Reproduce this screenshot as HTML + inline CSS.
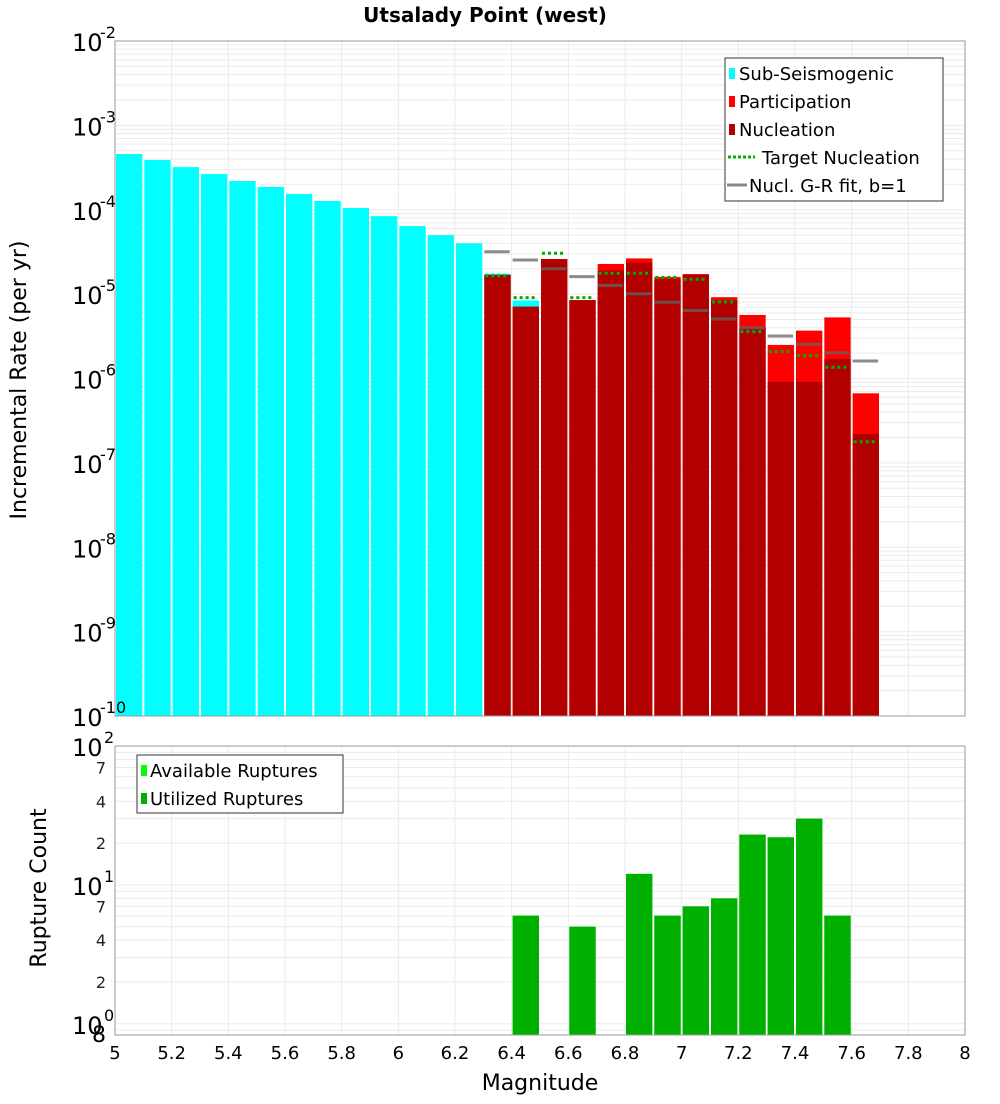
<!DOCTYPE html>
<html><head><meta charset="utf-8"><style>
body{margin:0;background:#fff;width:1000px;height:1100px;overflow:hidden;font-family:"DejaVu Sans","Liberation Sans",sans-serif}
svg text{font-family:"DejaVu Sans","Liberation Sans",sans-serif}
</style></head><body>
<svg id="c" width="1000" height="1100" xmlns="http://www.w3.org/2000/svg"></svg>
<script>
const subMags=[5.0,5.1,5.2,5.3,5.4,5.5,5.6,5.7,5.8,5.9,6.0,6.1,6.2,6.3,6.4];
const subRates=[4.58e-4,3.89e-4,3.2e-4,2.65e-4,2.19e-4,1.86e-4,1.54e-4,1.27e-4,1.05e-4,8.4e-5,6.4e-5,5.0e-5,4.0e-5,1.75e-5,8.4e-6];
const supMags=[6.3,6.4,6.5,6.6,6.7,6.8,6.9,7.0,7.1,7.2,7.3,7.4,7.5,7.6];
const partRates=[1.69e-5,7.1e-6,2.6e-5,8.5e-6,2.28e-5,2.65e-5,1.6e-5,1.73e-5,9.2e-6,5.66e-6,2.5e-6,3.69e-6,5.3e-6,6.67e-7];
const nuclRates=[1.69e-5,7.1e-6,2.6e-5,8.5e-6,1.9e-5,2.36e-5,1.5e-5,1.69e-5,8.5e-6,4.04e-6,9.1e-7,9.1e-7,1.7e-6,2.2e-7];
const targetRates=[1.65e-5,9.1e-6,3.05e-5,9.1e-6,1.77e-5,1.77e-5,1.58e-5,1.5e-5,8.1e-6,3.59e-6,2.08e-6,1.87e-6,1.36e-6,1.78e-7];
const grMags=[6.3,6.4,6.5,6.6,6.7,6.8,6.9,7.0,7.1,7.2,7.3,7.4,7.5,7.6];
const grRates=[3.18e-5,2.54e-5,2.0e-5,1.61e-5,1.27e-5,1.01e-5,8.0e-6,6.4e-6,5.07e-6,4.0e-6,3.19e-6,2.54e-6,2.02e-6,1.61e-6];
const cntMags=[6.4,6.6,6.8,6.9,7.0,7.1,7.2,7.3,7.4,7.5];
const availCounts=[6,5,12,6,7,8,23,22,30,6];
const usedCounts=[6,5,12,6,7,8,23,22,30,6];
const xTicks=[5,5.2,5.4,5.6,5.8,6,6.2,6.4,6.6,6.8,7,7.2,7.4,7.6,7.8,8];
const topDecades=[-2,-3,-4,-5,-6,-7,-8,-9,-10];

const S=document.getElementById('c');const NS='http://www.w3.org/2000/svg';
function el(t,a,p){const e=document.createElementNS(NS,t);for(const k in a)e.setAttribute(k,a[k]);(p||S).appendChild(e);return e;}
const X0=115,X1=965;
const x=m=>X0+(m-5)/3*(X1-X0);
const T0=41,T1=716;const yT=v=>T0+(-2-Math.log10(v))*(T1-T0)/8;
const B0=746,B1=1035,bMin=Math.log10(0.83);const yB=v=>B0+(2-Math.log10(v))*(B1-B0)/(2-bMin);
const bw=(X1-X0)/30;

function grid(y0,y1,yf,lo,hi){
  const g=el('g',{});
  
  for(let d=lo;d<hi;d++)for(let k=1;k<10;k++){const v=k*Math.pow(10,d);const yy=yf(v);if(yy>=y0&&yy<=y1)el('line',{x1:X0,x2:X1,y1:yy,y2:yy,stroke:'#ebebeb','stroke-width':1},g);}
  xTicks.forEach(t=>el('line',{x1:x(t),x2:x(t),y1:y0,y2:y1,stroke:'#ebebeb','stroke-width':1},g));
}
el('rect',{x:X0,y:T0,width:X1-X0,height:T1-T0,fill:'#fff'});
grid(T0,T1,yT,-10,-2);
el('rect',{x:X0,y:B0,width:X1-X0,height:B1-B0,fill:'#fff'});
grid(B0,B1,yB,-1,2);

// title
let t=el('text',{x:485,y:22,'text-anchor':'middle','font-size':20,'font-weight':'bold'});t.textContent='Utsalady Point (west)';


// top bars
subMags.forEach((m,i)=>{const r=el('rect',{x:x(m)+1,y:yT(subRates[i]),width:bw-2,height:T1-yT(subRates[i]),fill:'#00ffff'});
});
supMags.forEach((m,i)=>{const r=el('rect',{x:x(m)+1,y:yT(partRates[i]),width:bw-2,height:T1-yT(partRates[i]),fill:'#ff0000'});
});
supMags.forEach((m,i)=>{const r=el('rect',{x:x(m)+1,y:yT(nuclRates[i]),width:bw-2,height:T1-yT(nuclRates[i]),fill:'#b20000'});
});
grMags.forEach((m,i)=>{const l=el('line',{x1:x(m)+1,x2:x(m)+bw-2,y1:yT(grRates[i]),y2:yT(grRates[i]),stroke:'rgba(100,100,100,0.75)','stroke-width':3});
});
supMags.forEach((m,i)=>{const l=el('line',{x1:x(m)+2,x2:x(m)+bw-3,y1:yT(targetRates[i]),y2:yT(targetRates[i]),stroke:'#00b000','stroke-width':3,'stroke-dasharray':'3,3'});
});

// bottom bars
cntMags.forEach((m,i)=>{const r=el('rect',{x:x(m)+1,y:yB(availCounts[i]),width:bw-2,height:B1-yB(availCounts[i]),fill:'#00ff00'});
});
cntMags.forEach((m,i)=>{const r=el('rect',{x:x(m)+1,y:yB(usedCounts[i]),width:bw-2,height:B1-yB(usedCounts[i]),fill:'#00b000'});
});

// frames
el('rect',{x:X0,y:T0,width:X1-X0,height:T1-T0,fill:'none',stroke:'#999'});
el('rect',{x:X0,y:B0,width:X1-X0,height:B1-B0,fill:'none',stroke:'#999'});

// top y labels
topDecades.forEach(d=>{const yy=yT(Math.pow(10,d));
const tx=el('text',{x:72,y:yy+10,'font-size':24});tx.textContent='10';

const s=el('text',{x:100,y:yy-3,'font-size':16});s.textContent=String(d);
});
// bottom y labels
[[100,'10','2'],[10,'10','1'],[1,'10','0']].forEach(a=>{const yy=yB(a[0]);
const tx=el('text',{x:72,y:yy+10,'font-size':24});tx.textContent=a[1];

const s=el('text',{x:104,y:yy-3,'font-size':16});s.textContent=a[2];
});
[70,40,20,7,4,2].forEach(v=>{const yy=yB(v);const tx=el('text',{x:106,y:yy+6,'font-size':16,'text-anchor':'end',fill:'#222'});tx.textContent=String(v).charAt(0);
});
t=el('text',{x:106,y:1042,'font-size':22,'text-anchor':'end'});t.textContent='8';


// x labels
xTicks.forEach(v=>{const tx=el('text',{x:x(v),y:1059,'font-size':18,'text-anchor':'middle'});tx.textContent=String(v);
});
t=el('text',{x:540,y:1090,'font-size':22,'text-anchor':'middle'});t.textContent='Magnitude';

t=el('text',{x:0,y:0,'font-size':22,'text-anchor':'middle',transform:'translate(26,380) rotate(-90)'});t.textContent='Incremental Rate (per yr)';

t=el('text',{x:0,y:0,'font-size':22,'text-anchor':'middle',transform:'translate(46,888) rotate(-90)'});t.textContent='Rupture Count';


// legends
const lg=el('g',{});
el('rect',{x:725,y:58,width:218,height:143,fill:'#fff',stroke:'#333'},lg);
const items=[['Sub-Seismogenic','#00ffff','sq'],['Participation','#ff0000','sq'],['Nucleation','#b20000','sq'],['Target Nucleation','#00b000','dot'],['Nucl. G-R fit, b=1','#888','line']];
items.forEach((it,i)=>{const yy=73+i*28;
if(it[2]=='sq')el('rect',{x:729,y:yy-5,width:6,height:11,fill:it[1]},lg);
else if(it[2]=='dot')el('line',{x1:728,x2:755,y1:yy,y2:yy,stroke:it[1],'stroke-width':3,'stroke-dasharray':'3,2'},lg);
else el('line',{x1:727,x2:747,y1:yy,y2:yy,stroke:it[1],'stroke-width':3},lg);
const tx=el('text',{x:it[2]=='dot'?762:(it[2]=='line'?749:739),y:yy+7,'font-size':18},lg);tx.textContent=it[0];
});
const lg2=el('g',{});
el('rect',{x:137,y:755,width:206,height:58,fill:'#fff',stroke:'#333'},lg2);
[['Available Ruptures','#00ff00'],['Utilized Ruptures','#00b000']].forEach((it,i)=>{const yy=770+i*28;
el('rect',{x:141,y:yy-5,width:6,height:11,fill:it[1]},lg2);
const tx=el('text',{x:150,y:yy+7,'font-size':18},lg2);tx.textContent=it[0];
});
</script>
</body></html>
